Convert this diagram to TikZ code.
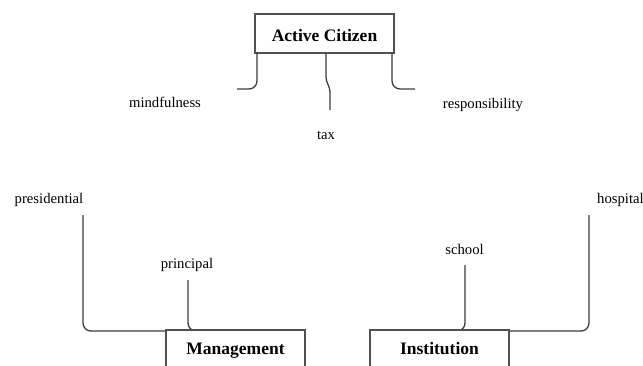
\documentclass[tikz,border=0pt]{standalone}
\usepackage{fontspec}
\setmainfont{Liberation Serif}
\usetikzlibrary{positioning,calc}
\definecolor{BoxGray}{HTML}{505050}
\definecolor{LineGray}{HTML}{3C3C3C}

\begin{document}
\begin{tikzpicture}[x=1pt, y=-1pt,
    box/.style={draw=BoxGray, line width=2pt, fill=white, minimum width=139pt,
      minimum height=39pt, inner sep=0pt, outer sep=0pt, text height=15pt,
      text depth=0pt, font=\fontsize{17.5}{20}\selectfont\bfseries},
    lowbox/.style={box, text height=9pt},
    lbl/.style={font=\fontsize{14.7}{17}\selectfont, inner sep=0pt, anchor=base},
    link/.style={draw=LineGray, line width=1.3pt, rounded corners=8pt}]
  \useasboundingbox (0,0) rectangle (643,365);

  % Top box and its three items
  \node[box] (citizen) at (324.5,33.5) {Active Citizen};
  \node[lbl] (mind) at (165,107)   {mindfulness};
  \node[lbl] (tax)  at (326,139)   {tax};
  \node[lbl] (resp) at (483,108)   {responsibility};
  \coordinate (mindEnd) at (237,89);
  \coordinate (respEnd) at (415,89);
  \coordinate (taxEnd)  at (330,110);

  \draw[link] ([xshift=2pt]citizen.south west) |- (mindEnd);
  \draw[link] ([xshift=-2pt]citizen.south east) |- (respEnd);
  \draw[link, rounded corners=4pt] ([xshift=1.5pt]citizen.south) -- ++(0,28)
    -- ++(4,7) -- (taxEnd);

  % Bottom boxes
  \node[lowbox] (mgmt) at (235.5,349.5) {Management};
  \node[lowbox] (inst) at (439.5,349.5) {Institution};

  % Items of Management
  \node[lbl] (pres)  at (49,203)  {presidential};
  \node[lbl] (princ) at (187,268) {principal};
  \coordinate (presStart)  at (83,215);
  \coordinate (princStart) at (188,280);
  \draw[link] (presStart) |- ([yshift=-1pt]mgmt.north west);
  \draw[link] (princStart) |- ([yshift=-1pt]mgmt.north);

  % Items of Institution
  \node[lbl] (school) at (464.5,254) {school};
  \node[lbl, anchor=base west] (hosp) at (597,203) {hospital};
  \coordinate (schoolStart) at (465,265);
  \coordinate (hospStart)   at (589,215);
  \draw[link] (schoolStart) |- ([yshift=-1pt]inst.north);
  \draw[link] (hospStart) |- ([yshift=-1pt]inst.north east);

  % redraw box frames over the joins
  \node[lowbox] at (mgmt) {Management};
  \node[lowbox] at (inst) {Institution};
\end{tikzpicture}
\end{document}
